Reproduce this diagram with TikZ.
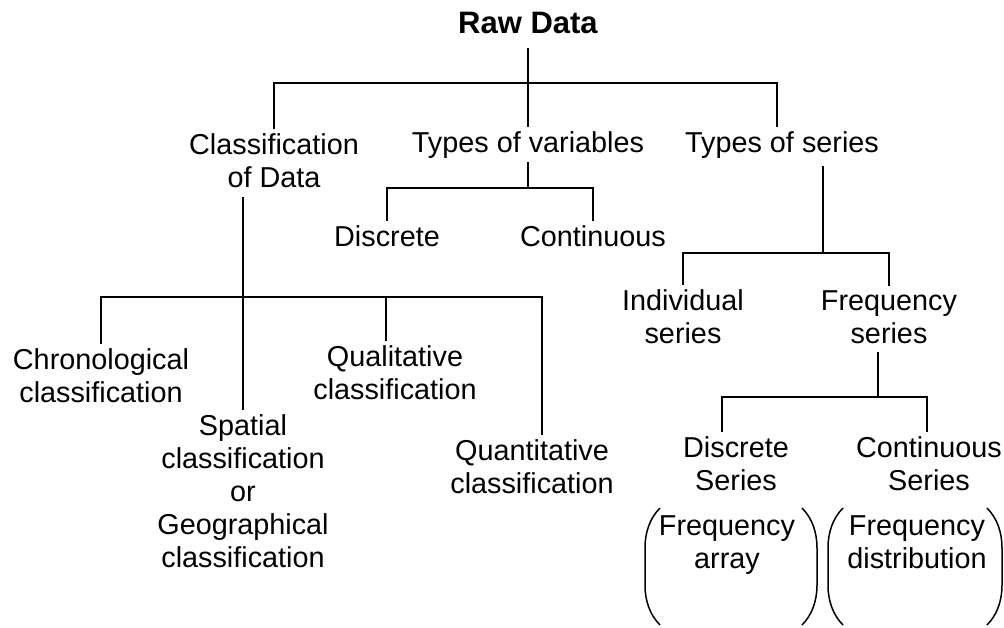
\documentclass[tikz,border=0pt]{standalone}
\usepackage{fontspec}
\setmainfont{Liberation Sans}
\usetikzlibrary{positioning}

\begin{document}
\begin{tikzpicture}[
  x=1pt,y=-1pt,
  lbl/.style={align=center,anchor=base,inner sep=4pt,
    font=\fontsize{28.8}{33}\selectfont},
  title/.style={anchor=base,inner sep=4pt,
    font=\fontsize{31}{34}\selectfont\bfseries},
  branch/.style={line width=2.6pt},
  paren/.style={line width=1.5pt}
]
  \useasboundingbox (0,0) rectangle (1004,627);

  % multi-line labels sit on the baseline of their last line
  \node[title] (raw) at (528,33) {Raw Data};
  \node[lbl] (cls) at (274,187) {Classification\\of Data};
  \node[lbl] (var) at (528,152) {Types of variables};
  \node[lbl] (ser) at (782,152) {Types of series};

  \node[lbl] (disc) at (387,246) {Discrete};
  \node[lbl] (cont) at (593,246) {Continuous};

  \node[lbl] (chron) at (101,402) {Chronological\\classification};
  \node[lbl] (qual) at (395,399) {Qualitative\\classification};
  \node[lbl] (spat) at (243,567) {Spatial\\classification\\or\\Geographical\\classification};
  \node[lbl] (quant) at (532,493) {Quantitative\\classification};

  \node[lbl] (ind) at (683,343) {Individual\\series};
  \node[lbl] (freq) at (889,343) {Frequency\\series};
  \node[lbl] (dser) at (736,490) {Discrete\\Series};
  \node[lbl] (cser) at (929,490) {Continuous\\Series};
  \node[lbl] (farr) at (727,568) {Frequency\\array};
  \node[lbl] (fdist) at (917,568) {Frequency\\distribution};

  % bar junctions of the tree
  \coordinate (topbar) at (528,83);
  \coordinate (varbar) at (528,188);
  \coordinate (clsbar) at (243,297);
  \coordinate (serbar) at (823,253);
  \coordinate (freqbar) at (878,397);

  \draw[branch,shorten <=10pt] (raw) -- (var);
  \draw[branch] (cls.north) |- (topbar) -| ([xshift=-5pt]ser.north);

  \draw[branch] (var.south) -- (varbar);
  \draw[branch] (disc.north) |- (varbar) -| (cont.north);

  \draw[branch,shorten >=6pt] (spat.north) -- (spat.north |- cls.south);
  \draw[branch] (chron.north) |- (clsbar) -| ([xshift=10pt]quant.north);
  \draw[branch] ([xshift=-9pt]qual.north) -- ([xshift=-9pt]qual.north |- clsbar);

  \draw[branch,shorten <=4pt] (serbar |- ser.south) -- (serbar);
  \draw[branch] (ind.north) |- (serbar) -| (freq.north);

  \draw[branch,shorten <=5pt] (freqbar |- freq.south) -- (freqbar);
  \draw[branch] ([xshift=-14pt]dser.north) |- (freqbar) -| ([xshift=-2pt]cser.north);

  % round brackets around the last two labels
  \foreach \l/\r in {645/817,828/1002} {
    \draw[paren] ({\l+15},508) .. controls ({\l+5},518) and (\l,532) .. (\l,548)
      -- (\l,585) .. controls (\l,601) and ({\l+5},615) .. ({\l+15},625);
    \draw[paren] ({\r-15},508) .. controls ({\r-5},518) and (\r,532) .. (\r,548)
      -- (\r,585) .. controls (\r,601) and ({\r-5},615) .. ({\r-15},625);
  }
\end{tikzpicture}
\end{document}
